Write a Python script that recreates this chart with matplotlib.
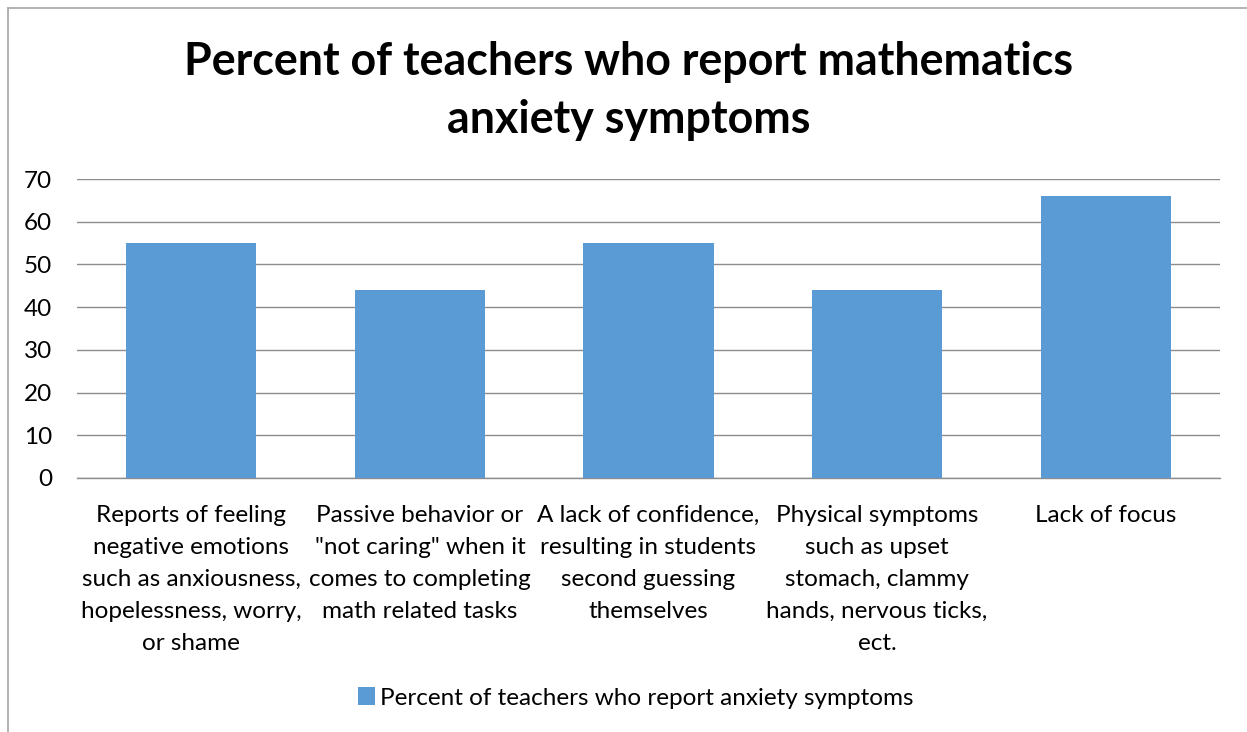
import matplotlib
matplotlib.use("Agg")
import matplotlib.pyplot as plt
from matplotlib.lines import Line2D
from matplotlib.patches import Patch

plt.rcParams['font.family'] = ['Lato', 'DejaVu Sans']

categories = [
    "Reports of feeling\nnegative emotions\nsuch as anxiousness,\nhopelessness, worry,\nor shame",
    "Passive behavior or\n\"not caring\" when it\ncomes to completing\nmath related tasks",
    "A lack of confidence,\nresulting in students\nsecond guessing\nthemselves",
    "Physical symptoms\nsuch as upset\nstomach, clammy\nhands, nervous ticks,\nect.",
    "Lack of focus",
]
values = [55, 44, 55, 44, 66]
yticks = [0, 10, 20, 30, 40, 50, 60, 70]
series_name = "Percent of teachers who report anxiety symptoms"
title = "Percent of teachers who report mathematics\nanxiety symptoms"

W, H = 1247, 732
fig = plt.figure(figsize=(W / 100, H / 100), dpi=100)
fig.patch.set_facecolor('white')

# chart frame (top & left visible)
fig.add_artist(Line2D([8 / W, 1], [1 - 8 / H, 1 - 8 / H], color='#A6A6A6', lw=1.2, transform=fig.transFigure))
fig.add_artist(Line2D([8 / W, 8 / W], [0, 1 - 8 / H], color='#A6A6A6', lw=1.2, transform=fig.transFigure))

ax = fig.add_axes([77 / W, (H - 478) / H, (1220 - 77) / W, (478 - 179) / H])
color = '#5B9BD5'
x = list(range(len(values)))
ax.bar(x, values, width=0.57, color=color, zorder=3)
ax.set_xlim(-0.5, len(values) - 0.5)
ax.set_ylim(0, 70)
ax.set_yticks(yticks)
ax.set_yticklabels([str(t) for t in yticks], fontsize=17.5)
ax.set_xticks(x)
ax.set_xticklabels(categories, fontsize=17.5, linespacing=1.64, va='top')
ax.tick_params(axis='both', length=0)
ax.tick_params(axis='x', pad=19.5)
ax.tick_params(axis='y', pad=18)
ax.grid(axis='y', color='#8C8C8C', lw=1.0, zorder=0)
for s in ['top', 'right', 'left']:
    ax.spines[s].set_visible(False)
ax.spines['bottom'].set_color('#8C8C8C')
ax.spines['bottom'].set_linewidth(1.0)

fig.text(629 / W, 1 - 91 / H, title, ha='center', va='center', fontsize=32.2,
         fontweight='bold', linespacing=1.45)

fig.legend(handles=[Patch(facecolor=color, label=series_name)], loc='center',
           bbox_to_anchor=(636 / W, 1 - 698 / H), frameon=False, fontsize=17.5,
           handlelength=0.7, handleheight=0.7, handletextpad=0.2)

fig.savefig('out.png', dpi=100)
